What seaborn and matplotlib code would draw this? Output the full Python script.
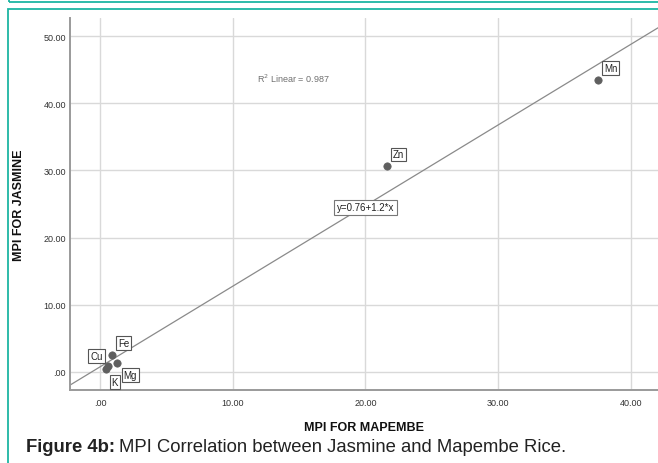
import numpy as np
import pandas as pd
import seaborn as sns
import matplotlib
import matplotlib.pyplot as plt
from matplotlib.patches import Rectangle
from matplotlib.ticker import FuncFormatter

matplotlib.use('Agg')

# values
elements = ['Mn', 'Zn', 'Fe', 'Cu', 'Mg', 'K']
mpi_mapembe = [37.5, 21.6, 0.88, 0.63, 1.31, 0.45]
mpi_jasmine = [43.5, 30.7, 2.6, 0.85, 1.3, 0.45]

fit_intercept = 0.76
fit_slope = 1.2
r_squared = 0.987

x_ticks = [0, 10, 20, 30, 40]
y_ticks = [0, 10, 20, 30, 40, 50]

# where each point label sits relative to its point (points), and alignment
label_place = {
    'Mn': ((4.5, 4.5), 'left', 'bottom'),
    'Zn': ((4.5, 4.5), 'left', 'bottom'),
    'Fe': ((4.5, 4.5), 'left', 'bottom'),
    'Cu': ((-4.0, 3.5), 'right', 'bottom'),
    'Mg': ((4.5, -5.0), 'left', 'top'),
    'K': ((4.0, -6.0), 'left', 'top'),
}

df = pd.DataFrame({'element': elements, 'mapembe': mpi_mapembe, 'jasmine': mpi_jasmine})

sns.set_theme(style='white')
plt.rcParams['font.family'] = ['Liberation Sans', 'DejaVu Sans']

fig = plt.figure(figsize=(6.58, 4.64), dpi=100)
ax = fig.add_axes([70 / 658, 73 / 464, 588 / 658, 372 / 464])

# teal frames of the page
teal = '#1cb5a3'
fig.patches.append(Rectangle((9 / 658, 1 - 3 / 464), 1.0, 1.0, transform=fig.transFigure,
                             fill=False, edgecolor=teal, linewidth=1.3, zorder=0))
fig.patches.append(Rectangle((8 / 658, -0.1), 1.0, 1.1 - 10 / 464, transform=fig.transFigure,
                             fill=False, edgecolor=teal, linewidth=1.3, zorder=0))

ax.set_xlim(-2.26, 42.05)
ax.set_ylim(-2.68, 52.68)
ax.set_xticks(x_ticks)
ax.set_yticks(y_ticks)

fmt = FuncFormatter(lambda v, p: f'{v:.2f}'.lstrip('0') if v == 0 else f'{v:.2f}')
ax.xaxis.set_major_formatter(fmt)
ax.yaxis.set_major_formatter(fmt)
ax.tick_params(axis='both', length=0, labelsize=6.5, labelcolor='#333333')
ax.tick_params(axis='x', pad=6)
ax.tick_params(axis='y', pad=3)

ax.grid(True, color='#d9d9d9', linewidth=1.0)
ax.set_axisbelow(True)
for side in ['top', 'right']:
    ax.spines[side].set_visible(False)
for side in ['left', 'bottom']:
    ax.spines[side].set_color('#9a9a9a')
    ax.spines[side].set_linewidth(1.4)

# fit line
ax.axline((0, fit_intercept), slope=fit_slope, color='#8a8a8a', linewidth=0.9, zorder=2)

sns.scatterplot(data=df, x='mapembe', y='jasmine', ax=ax, color='#5f5f5f',
                s=28, edgecolor='#5f5f5f', linewidth=0.5, zorder=3, legend=False)

for name, xv, yv in zip(elements, mpi_mapembe, mpi_jasmine):
    offset, ha, va = label_place[name]
    ax.annotate(name, (xv, yv), xytext=offset, textcoords='offset points',
                ha=ha, va=va, fontsize=7, color='#222222', zorder=4,
                bbox=dict(boxstyle='square,pad=0.2', facecolor='white',
                          edgecolor='#555555', linewidth=0.8))

ax.text(20.0, 24.5, f'y={fit_intercept}+{fit_slope}*x', ha='center', va='center',
        fontsize=7, color='#222222', zorder=5,
        bbox=dict(boxstyle='square,pad=0.25', facecolor='white',
                  edgecolor='#777777', linewidth=0.8))

ax.text(11.83, 43.75, f'R$^2$ Linear = {r_squared}', ha='left', va='center',
        fontsize=6.5, color='#707070')

ax.set_xlabel('MPI FOR MAPEMBE', fontsize=9, fontweight='bold', color='#111111', labelpad=10)
ax.set_ylabel('MPI FOR JASMINE', fontsize=9, fontweight='bold', color='#111111')
ax.yaxis.set_label_coords(-45 / 588, 0.5)

# caption: bold prefix and normal text
cap_y = 1 - 448 / 464
bold = fig.text(26 / 658, cap_y, 'Figure 4b:', fontsize=13.3, fontweight='bold',
                color='#222222', va='center', ha='left')
fig.canvas.draw()
bb = bold.get_window_extent()
fig.text(bb.x1 / fig.bbox.width + 4 / 658, cap_y,
         'MPI Correlation between Jasmine and Mapembe Rice.',
         fontsize=13.3, color='#222222', va='center', ha='left')

plt.savefig('out.png', dpi=100)
plt.close()
